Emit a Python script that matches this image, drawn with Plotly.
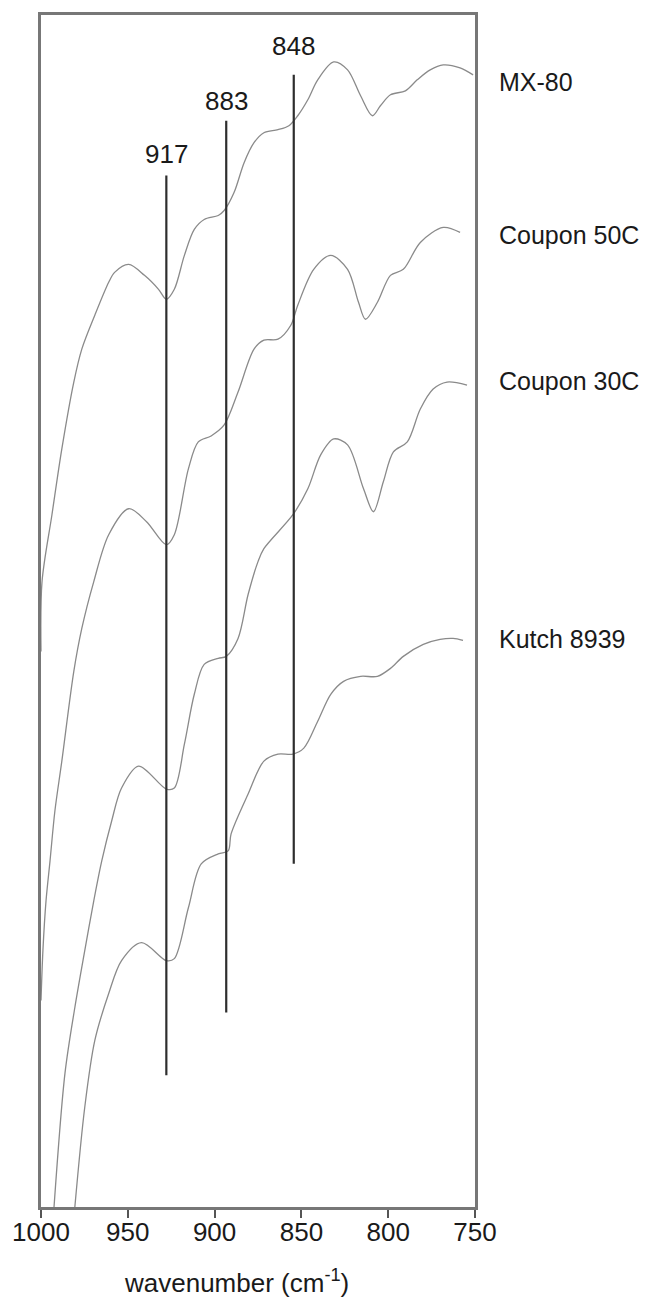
import plotly.graph_objects as go

# ---- data (wavenumber cm^-1, absorbance a.u.) ----
mx80_wn = [1000, 999.4, 993.7, 988.0, 981.1, 976.5, 969.0, 961.0, 957.6, 949.5, 940.4, 932.3,
           927.8, 923.2, 917.4, 911.7, 906.0, 897.9, 894.5, 888.8, 883.0, 877.3, 871.6, 863.5,
           857.2, 852.1, 846.3, 840.6, 831.4, 823.4, 815.9, 809.1, 804.5, 798.7, 790.1, 783.3,
           775.8, 768.3, 758.6, 751.1]
mx80_abs = [0.557, 0.627, 0.694, 0.760, 0.827, 0.860, 0.894, 0.927, 0.937, 0.945, 0.934, 0.920,
            0.910, 0.920, 0.954, 0.980, 0.990, 0.994, 0.999, 1.017, 1.047, 1.067, 1.077, 1.080,
            1.084, 1.094, 1.110, 1.130, 1.148, 1.140, 1.114, 1.094, 1.104, 1.115, 1.119, 1.130,
            1.140, 1.145, 1.142, 1.135]

c50_wn = [1000, 998.9, 997.1, 994.8, 992.0, 988.0, 981.1, 976.5, 969.6, 961.0, 949.5, 939.2,
          927.8, 923.2, 915.1, 909.4, 902.0, 894.5, 886.5, 877.3, 871.6, 863.5, 856.1, 852.1,
          842.9, 833.1, 823.4, 817.1, 813.1, 806.2, 798.7, 791.3, 781.5, 768.3, 758.6]
c50_abs = [0.207, 0.257, 0.307, 0.347, 0.397, 0.447, 0.537, 0.580, 0.627, 0.674, 0.700, 0.687,
           0.664, 0.674, 0.740, 0.767, 0.773, 0.784, 0.817, 0.860, 0.869, 0.870, 0.884, 0.904,
           0.940, 0.954, 0.940, 0.907, 0.890, 0.907, 0.934, 0.940, 0.967, 0.982, 0.977]

c30_wn = [992.5, 986.2, 980.5, 974.8, 969.6, 965.0, 959.3, 953.6, 943.8, 927.8, 923.2, 917.4,
          911.7, 906.0, 897.9, 893.3, 886.5, 880.7, 875.0, 871.6, 854.9, 846.3, 838.9, 831.4,
          823.4, 814.2, 808.5, 802.8, 797.0, 789.0, 781.5, 774.1, 766.1, 754.6]
c30_abs = [0.000, 0.134, 0.200, 0.257, 0.307, 0.347, 0.387, 0.420, 0.442, 0.419, 0.420, 0.464,
           0.514, 0.544, 0.550, 0.552, 0.570, 0.614, 0.647, 0.660, 0.694, 0.720, 0.754, 0.770,
           0.764, 0.720, 0.697, 0.727, 0.757, 0.767, 0.800, 0.820, 0.827, 0.824]

kutch_wn = [980.5, 974.8, 969.0, 961.0, 953.6, 942.1, 927.8, 923.2, 915.1, 907.7, 897.9, 892.2,
            890.5, 880.7, 871.6, 863.5, 854.9, 848.6, 840.6, 833.1, 825.7, 815.9, 806.2, 798.7,
            791.3, 779.8, 770.1, 762.6, 756.9]
kutch_abs = [0.000, 0.100, 0.167, 0.214, 0.247, 0.265, 0.247, 0.249, 0.300, 0.344, 0.354, 0.357,
             0.374, 0.414, 0.447, 0.454, 0.454, 0.460, 0.487, 0.514, 0.527, 0.532, 0.532, 0.540,
             0.552, 0.564, 0.569, 0.570, 0.568]

series_names = ["MX-80", "Coupon 50C", "Coupon 30C", "Kutch 8939"]
series_label_abs = [1.128, 0.974, 0.828, 0.569]

# marker lines: label, drawn position, top and bottom
marker_labels = ["917", "883", "848"]
marker_wn = [927.8, 893.3, 854.4]
marker_top = [1.034, 1.089, 1.135]
marker_bottom = [0.132, 0.195, 0.344]
marker_label_abs = [1.056, 1.109, 1.164]

x_ticks = [1000, 950, 900, 850, 800, 750]

FONT = "Liberation Sans, Arial, Helvetica, sans-serif"
CURVE = "#8a8a8a"

fig = go.Figure()
for wn, ab, name in [(mx80_wn, mx80_abs, series_names[0]), (c50_wn, c50_abs, series_names[1]),
                     (c30_wn, c30_abs, series_names[2]), (kutch_wn, kutch_abs, series_names[3])]:
    fig.add_trace(go.Scatter(x=wn, y=ab, mode="lines", name=name,
                             line=dict(color=CURVE, width=1.3, shape="spline", smoothing=0.9)))

for lab, xw, top, bot, ly in zip(marker_labels, marker_wn, marker_top, marker_bottom, marker_label_abs):
    fig.add_trace(go.Scatter(x=[xw, xw], y=[bot, top], mode="lines",
                             line=dict(color="#2e2e2e", width=2.2), name=lab))
    fig.add_annotation(x=xw, y=ly, xref="x", yref="y", text=lab, showarrow=False,
                       xanchor="center", yanchor="middle",
                       font=dict(family=FONT, size=26, color="#1a1a1a"))

for name, ly in zip(series_names, series_label_abs):
    fig.add_annotation(x=1.062, y=ly, xref="paper", yref="y", text=name, showarrow=False,
                       xanchor="left", yanchor="middle", xshift=-4, borderpad=0,
                       font=dict(family=FONT, size=25, color="#1a1a1a"))

fig.add_annotation(x=0.4495, y=-0.0628, xref="paper", yref="paper",
                   text="wavenumber (cm<sup>-1</sup>)", showarrow=False,
                   xanchor="center", yanchor="middle",
                   font=dict(family=FONT, size=26, color="#1a1a1a"))

# the page body adds an 8px margin, so the figure is 8px smaller and margins shifted
fig.update_layout(
    width=645, height=1291,
    margin=dict(l=31, r=178, t=4, b=92, pad=0),
    paper_bgcolor="white", plot_bgcolor="white",
    showlegend=False,
    font=dict(family=FONT, size=26, color="#1a1a1a"),
)
fig.update_xaxes(range=[1000, 750], tickvals=x_ticks, ticktext=[str(t) for t in x_ticks],
                 ticks="outside", ticklen=8, tickwidth=1.6, tickcolor="#555",
                 ticklabelstandoff=-8,
                 showline=True, linecolor="#777", linewidth=2.6, mirror=True,
                 showgrid=False, zeroline=False,
                 tickfont=dict(family=FONT, size=26, color="#1a1a1a"))
fig.update_yaxes(range=[0, 1.195], showticklabels=False, ticks="",
                 showline=True, linecolor="#777", linewidth=2.6, mirror=True,
                 showgrid=False, zeroline=False)

fig.write_html("out.html")
